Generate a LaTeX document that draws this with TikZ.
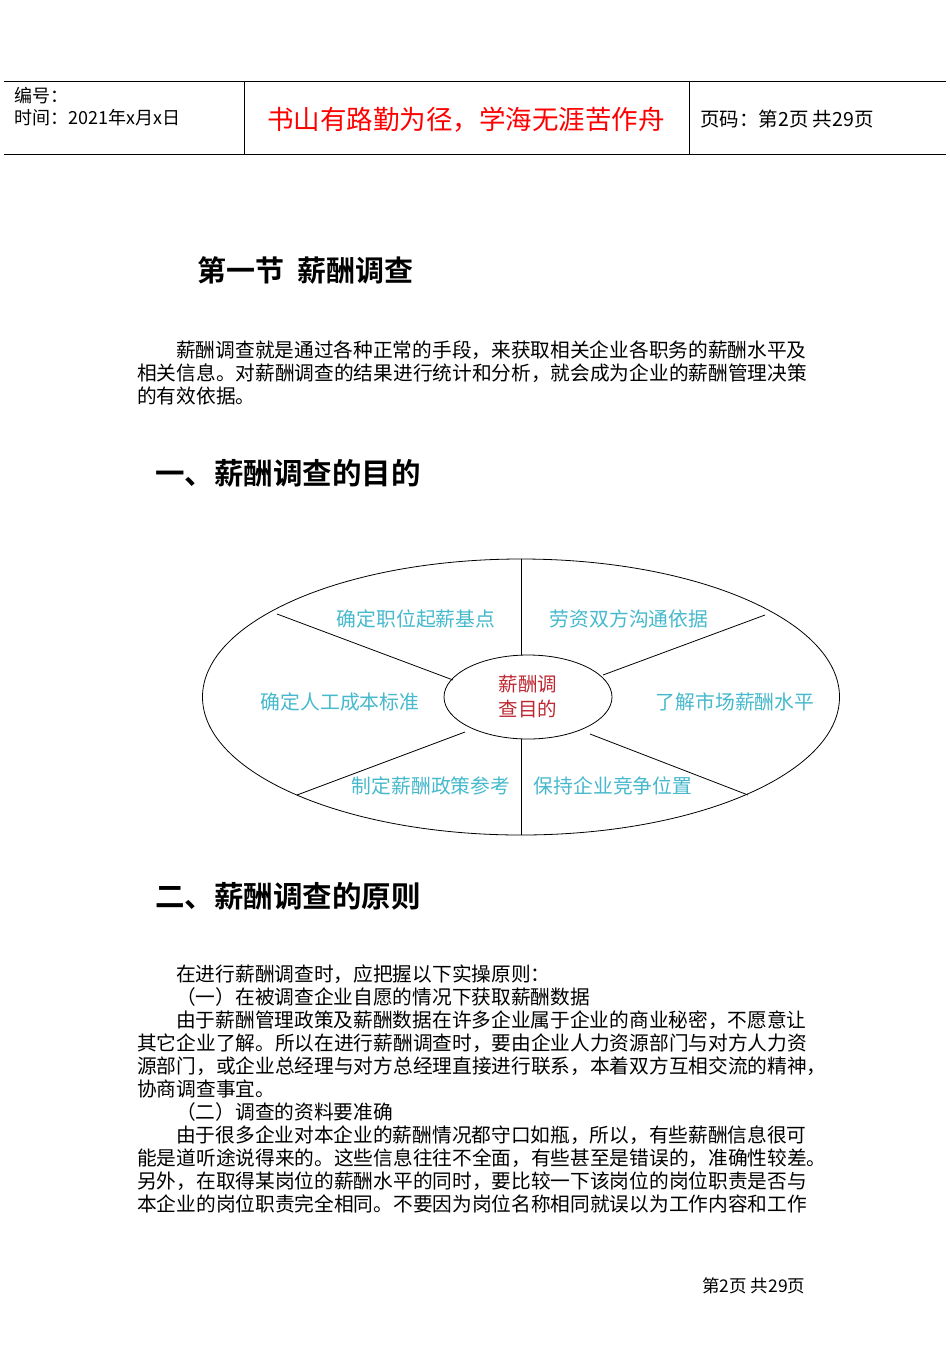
\documentclass[tikz,border=0pt]{standalone}
\usetikzlibrary{shapes.geometric}
\usepackage{fontspec}
\setmainfont{Noto Sans CJK SC}
\newfontfamily\hei{Noto Sans CJK SC Bold}
\definecolor{lab}{RGB}{70,185,205}
\definecolor{cen}{RGB}{190,40,50}
\begin{document}
\begin{tikzpicture}[x=1pt,y=-1pt,
  body/.style={anchor=west,inner sep=0,font=\fontsize{19.7}{22}\selectfont},
  lbl/.style={text=lab,font=\fontsize{19.8}{22}\selectfont,inner sep=0},
  ln/.style={line width=0.8pt}]
\useasboundingbox[fill=white] (0,0) rectangle (950,1350);
% header
\draw[line width=0.9pt] (4,81) -- (946,81);
\draw[line width=0.9pt] (4,154) -- (946,154);
\draw (244,81) -- (244,154);
\draw (689,81) -- (689,154);
\node[body,font=\fontsize{18}{20}\selectfont] (h1) at (14,96) {编号：};
\node[body,font=\fontsize{18}{20}\selectfont] (h2) at (14,118) {时间：2021年x月x日};
\node[text=red,inner sep=0,font=\fontsize{26.5}{30}\selectfont] (h3) at (466,120) {书山有路勤为径，学海无涯苦作舟};
\node[body,font=\fontsize{19.5}{22}\selectfont] (h4) at (700,119) {页码：第2页 共29页};
% title
\node[body,font=\hei\fontsize{29}{32}\selectfont] (t1) at (197,270) {第一节\ \ 薪酬调查};
\node[body] (p1) at (176,350) {薪酬调查就是通过各种正常的手段，来获取相关企业各职务的薪酬水平及};
\node[body] (p2) at (137,373) {相关信息。对薪酬调查的结果进行统计和分析，就会成为企业的薪酬管理决策};
\node[body] (p3) at (137,396) {的有效依据。};
\node[body,font=\hei\fontsize{29.5}{33}\selectfont] (s1) at (155,473) {一、薪酬调查的目的};
% diagram
\node[draw,ln,ellipse,minimum width=637,minimum height=276,inner sep=0] (out) at (521,697) {};
\node[draw,ln,ellipse,minimum width=168,minimum height=84,inner sep=0,fill=white,align=center,text=cen,font=\fontsize{19.5}{25}\selectfont] (in) at (528,697) {薪酬调\\查目的};
\draw[ln] (out.north) -- (521,655);
\draw[ln] (521,739) -- (out.south);
\coordinate (a1) at (277,614); \coordinate (a2) at (765,615);
\coordinate (a3) at (297,795); \coordinate (a4) at (748,795);
\draw[ln] (a1) -- (453,680);
\draw[ln] (a2) -- (603,675);
\draw[ln] (a3) -- (465,732);
\draw[ln] (a4) -- (590,734);
\node[lbl] (l1) at (416,619) {确定职位起薪基点};
\node[lbl] (l2) at (629,619) {劳资双方沟通依据};
\node[lbl] (l3) at (340,702) {确定人工成本标准};
\node[lbl] (l4) at (735,702) {了解市场薪酬水平};
\node[lbl] (l5) at (431,786) {制定薪酬政策参考};
\node[lbl] (l6) at (613,786) {保持企业竞争位置};
\node[body,font=\hei\fontsize{29.5}{33}\selectfont] (s2) at (155,896) {二、薪酬调查的原则};
\node[body] (q1) at (176,974) {在进行薪酬调查时，应把握以下实操原则：};
\node[body] (q2) at (176,997) {（一）在被调查企业自愿的情况下获取薪酬数据};
\node[body] (q3) at (176,1020) {由于薪酬管理政策及薪酬数据在许多企业属于企业的商业秘密，不愿意让};
\node[body] (q4) at (137,1043) {其它企业了解。所以在进行薪酬调查时，要由企业人力资源部门与对方人力资};
\node[body] (q5) at (137,1066) {源部门，或企业总经理与对方总经理直接进行联系，本着双方互相交流的精神，};
\node[body] (q6) at (137,1089) {协商调查事宜。};
\node[body] (q7) at (176,1112) {（二）调查的资料要准确};
\node[body] (q8) at (176,1135) {由于很多企业对本企业的薪酬情况都守口如瓶，所以，有些薪酬信息很可};
\node[body] (q9) at (137,1158) {能是道听途说得来的。这些信息往往不全面，有些甚至是错误的，准确性较差。};
\node[body] (q10) at (137,1181) {另外，在取得某岗位的薪酬水平的同时，要比较一下该岗位的岗位职责是否与};
\node[body] (q11) at (137,1204) {本企业的岗位职责完全相同。不要因为岗位名称相同就误以为工作内容和工作};
\node[body,font=\fontsize{17.5}{20}\selectfont] (ft) at (702,1286) {第2页 共29页};
\end{tikzpicture}
\end{document}
